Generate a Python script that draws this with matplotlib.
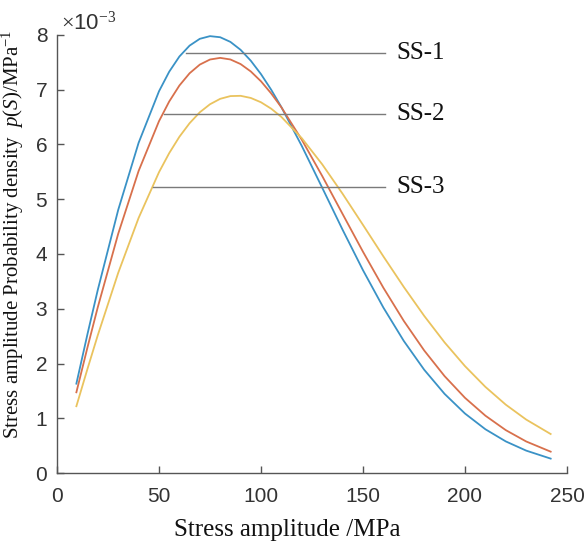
import matplotlib
matplotlib.use("Agg")
from matplotlib import pyplot as plt

plt.rcParams["mathtext.fontset"] = "custom"
plt.rcParams["mathtext.rm"] = "Liberation Serif"
plt.rcParams["mathtext.it"] = "Liberation Serif:italic"

# stress amplitude (MPa) and probability density (x 1e-3 / MPa)
stress = [9.5, 15, 20, 30, 40, 50, 55, 60, 65, 70, 75, 80, 85, 90, 95, 100,
          105, 110, 120, 130, 140, 150, 160, 170, 180, 190, 200, 210, 220,
          230, 242]
ss1 = [1.632, 2.547, 3.345, 4.805, 6.030, 6.972, 7.329, 7.607, 7.806, 7.930,
       7.979, 7.959, 7.874, 7.729, 7.530, 7.285, 7.000, 6.682, 5.973, 5.211,
       4.443, 3.704, 3.021, 2.412, 1.886, 1.445, 1.086, 0.799, 0.577, 0.409,
       0.263]
ss2 = [1.474, 2.303, 3.029, 4.369, 5.516, 6.426, 6.785, 7.077, 7.301, 7.459,
       7.552, 7.582, 7.553, 7.469, 7.334, 7.154, 6.933, 6.679, 6.087, 5.425,
       4.731, 4.041, 3.383, 2.778, 2.238, 1.769, 1.373, 1.047, 0.783, 0.576,
       0.390]
ss3 = [1.220, 1.909, 2.517, 3.655, 4.658, 5.494, 5.842, 6.141, 6.389, 6.588,
       6.735, 6.834, 6.884, 6.889, 6.850, 6.771, 6.654, 6.503, 6.115, 5.638,
       5.100, 4.531, 3.956, 3.398, 2.870, 2.385, 1.952, 1.573, 1.248, 0.976,
       0.712]

names = ["SS-1", "SS-2", "SS-3"]
# where each leader line starts (on its curve) and its height
lead_x = [63, 52.5, 47]
lead_y = [7.67, 6.56, 5.22]

fig = plt.figure(figsize=(5.87, 5.45), dpi=100)
ax = fig.add_axes([0.0971, 0.1321, 0.8688, 0.8037])

ax.plot(stress, ss1, color="#3a92c6", lw=1.3)
ax.plot(stress, ss2, color="#d8704c", lw=1.3)
ax.plot(stress, ss3, color="#eac35e", lw=1.3)

for name, x0, y0 in zip(names, lead_x, lead_y):
    ax.plot([x0, 161], [y0, y0], color="#7a7a7a", lw=1.0)
    ax.text(166.5, y0, name, fontsize=18, family="Liberation Serif",
            va="center", ha="left", color="#111111")

ax.set_xlim(0, 250)
ax.set_ylim(0, 8)
ax.set_xticks([0, 50, 100, 150, 200, 250])
ax.set_yticks(range(9))

for s in ["top", "right"]:
    ax.spines[s].set_visible(False)
for s in ["left", "bottom"]:
    ax.spines[s].set_color("#555555")
    ax.spines[s].set_linewidth(1.0)

ax.tick_params(direction="in", length=5, width=1, colors="#555555",
               labelcolor="#333333", labelsize=15,
               labelfontfamily="Liberation Sans")
ax.tick_params(axis="x", pad=10)
ax.tick_params(axis="y", pad=7)

ax.text(0.008, 1.0, r"$\times$10$^{-3}$", transform=ax.transAxes,
        fontsize=16, family="Liberation Sans", color="#333333",
        ha="left", va="bottom")

ax.set_xlabel("Stress amplitude /MPa", fontsize=18, family="Liberation Serif",
              color="#111111")
ax.xaxis.set_label_coords(0.451, -0.105)
ax.set_ylabel(r"Stress amplitude Probability density  $p$($S$)/MPa$^{-1}$",
              fontsize=15, family="Liberation Serif", color="#111111")
ax.yaxis.set_label_coords(-0.061, 0.545)

fig.savefig("out.png", dpi=100)
